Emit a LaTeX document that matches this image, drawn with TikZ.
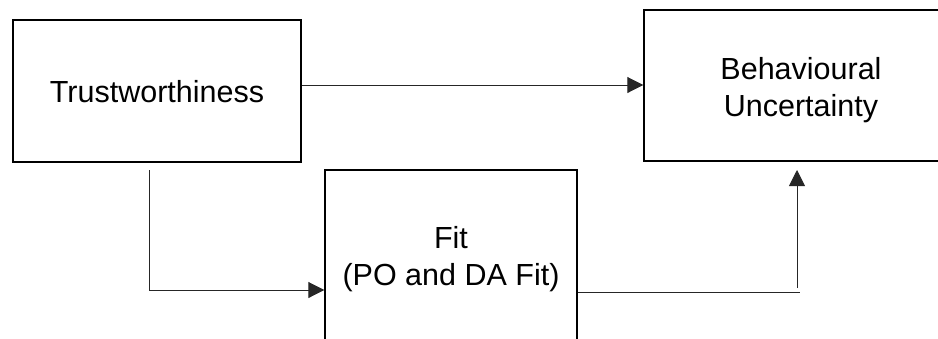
\documentclass[tikz,border=0pt]{standalone}
\usepackage{fontspec}
\setmainfont{Liberation Sans}
\usetikzlibrary{arrows.meta}
\begin{document}
\begin{tikzpicture}[x=1pt,y=-1pt,
  box/.style={draw=black,line width=1.4pt,inner sep=0pt},
  lbl/.style={inner sep=0pt,align=center,font=\fontsize{30.5}{36.5}\selectfont},
  conn/.style={draw=black!85,line width=0.9pt},
  arr/.style={conn,-{Triangle[length=16pt,width=16pt]}}]
\useasboundingbox (0,0) rectangle (938,338);
\node[box,minimum width=288pt,minimum height=142pt] (trust) at (157,91) {};
\node[lbl] (trustlbl) at (157,92) {Trustworthiness};
\node[box,minimum width=314pt,minimum height=151pt] (beh) at (801,85.5) {};
\node[lbl] (behlbl) at (801,90) {Behavioural\\Uncertainty};
\node[box,minimum width=252pt,minimum height=176pt] (fit) at (451,258) {};
\node[lbl] (fitlbl) at (451,259) {Fit\\(PO and DA Fit)};
\coordinate (c1) at (149,170);
\coordinate (c2) at (800,292);
\coordinate (c3) at (797,288);
\coordinate (c4) at (797,170);
\draw[arr] ([yshift=6pt]trust.east) -- ([yshift=6pt]trust.east -| beh.west);
\draw[arr] (c1) |- ([yshift=-32pt]fit.west);
\draw[conn] ([yshift=-34pt]fit.east) -- (c2);
\draw[arr] (c3) -- (c4);
\end{tikzpicture}
\end{document}
